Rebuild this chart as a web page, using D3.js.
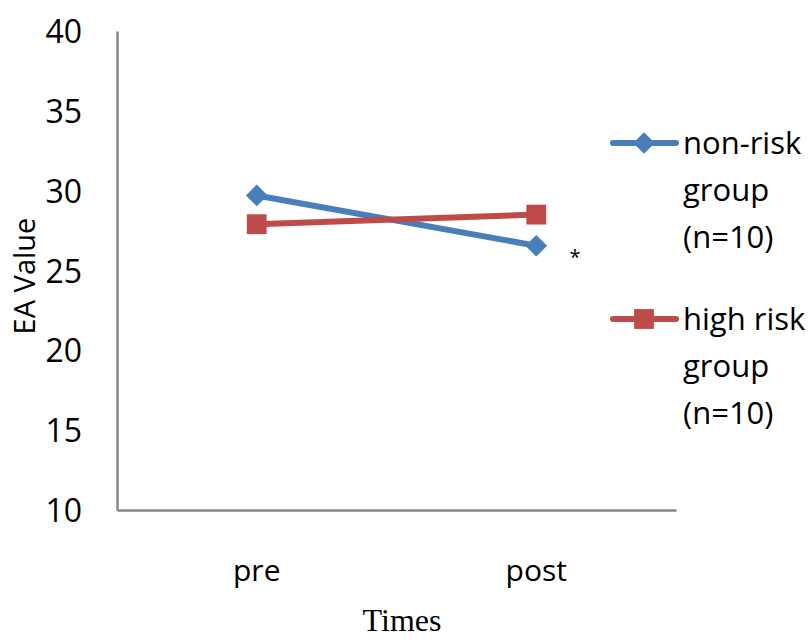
<!DOCTYPE html>
<html lang="en">
<head>
    <meta charset="UTF-8">
    <title>EA Value by Time</title>
    <script src="https://cdnjs.cloudflare.com/ajax/libs/d3/7.8.5/d3.min.js"></script>
    <style>
        body { margin: 0; background: white; }
        svg { display: block; }
        text { font-family: 'Open Sans', sans-serif; fill: black; }
        .axis path { stroke: #878787; stroke-width: 2.5px; }
        .axis line { display: none; }
        .axis text { font-family: 'Open Sans', sans-serif; }
    </style>
</head>
<body>
    <svg id="main" width="812" height="640"></svg>
    <script>
        "use strict";

        const times = ["pre", "post"];
        const nonRisk = [29.7, 26.55];
        const highRisk = [27.9, 28.5];
        const yTicks = [10, 15, 20, 25, 30, 35, 40];

        const series = [
            { name: ["non-risk", "group", "(n=10)"], values: nonRisk, color: "#4A7EBB", marker: "diamond" },
            { name: ["high risk", "group", "(n=10)"], values: highRisk, color: "#BE4B48", marker: "square" }
        ];

        const svg = d3.select("svg#main");

        const plotLeft = 117, plotRight = 676, plotTop = 31, plotBottom = 510;

        const x = d3.scaleBand().domain(times).range([plotLeft, plotRight]);
        const y = d3.scaleLinear().domain([10, 40]).range([plotBottom, plotTop]);

        // Axes
        svg.append("g")
            .attr("class", "axis")
            .attr("transform", "translate(" + plotLeft + ",0)")
            .call(d3.axisLeft(y).tickValues(yTicks).tickSize(0).tickPadding(35).tickSizeOuter(0))
            .selectAll("text")
            .attr("dy", "0.36em")
            .style("font-size", "32px");

        svg.append("g")
            .attr("class", "axis")
            .attr("transform", "translate(0," + plotBottom + ")")
            .call(d3.axisBottom(x).tickSize(0).tickSizeOuter(0).tickPadding(50))
            .selectAll("text")
            .attr("dy", "0.71em")
            .style("font-size", "30px");

        // Axis titles
        svg.append("text")
            .attr("transform", "translate(35,276) rotate(-90)")
            .attr("text-anchor", "middle")
            .style("font-size", "29px")
            .text("EA Value");

        svg.append("text")
            .attr("x", 402)
            .attr("y", 631)
            .attr("text-anchor", "middle")
            .style("font-family", "'Liberation Serif', serif")
            .style("font-size", "32px")
            .text("Times");

        const line = d3.line()
            .x((d, i) => x(times[i]) + x.bandwidth() / 2)
            .y(d => y(d));

        const diamond = d3.symbol().type(d3.symbolDiamond2).size(300);
        const square = d3.symbol().type(d3.symbolSquare2).size(500);

        function markerPath(s) { return s.marker === "diamond" ? diamond() : square(); }

        series.forEach(s => {
            svg.append("path")
                .datum(s.values)
                .attr("fill", "none")
                .attr("stroke", s.color)
                .attr("stroke-width", 6)
                .attr("d", line);

            svg.selectAll(null)
                .data(s.values)
                .enter()
                .append("path")
                .attr("transform", (d, i) => "translate(" + (x(times[i]) + x.bandwidth() / 2) + "," + y(d) + ")")
                .attr("fill", s.color)
                .attr("d", markerPath(s));
        });

        // Significance marker
        svg.append("text")
            .attr("x", 575)
            .attr("y", 264)
            .attr("text-anchor", "middle")
            .style("font-size", "20px")
            .text("*");

        // Legend
        const legend = svg.append("g");
        const legendY = [143, 319];

        series.forEach((s, i) => {
            const g = legend.append("g").attr("transform", "translate(0," + legendY[i] + ")");
            g.append("line")
                .attr("x1", 613).attr("x2", 676)
                .attr("stroke", s.color)
                .attr("stroke-width", 6)
                .attr("stroke-linecap", "round");
            g.append("path")
                .attr("transform", "translate(644,0)")
                .attr("fill", s.color)
                .attr("d", markerPath(s));
            s.name.forEach((t, j) => {
                g.append("text")
                    .attr("x", 683)
                    .attr("y", j * 47)
                    .attr("dy", "0.36em")
                    .style("font-size", "31px")
                    .text(t);
            });
        });
    </script>
</body>
</html>
